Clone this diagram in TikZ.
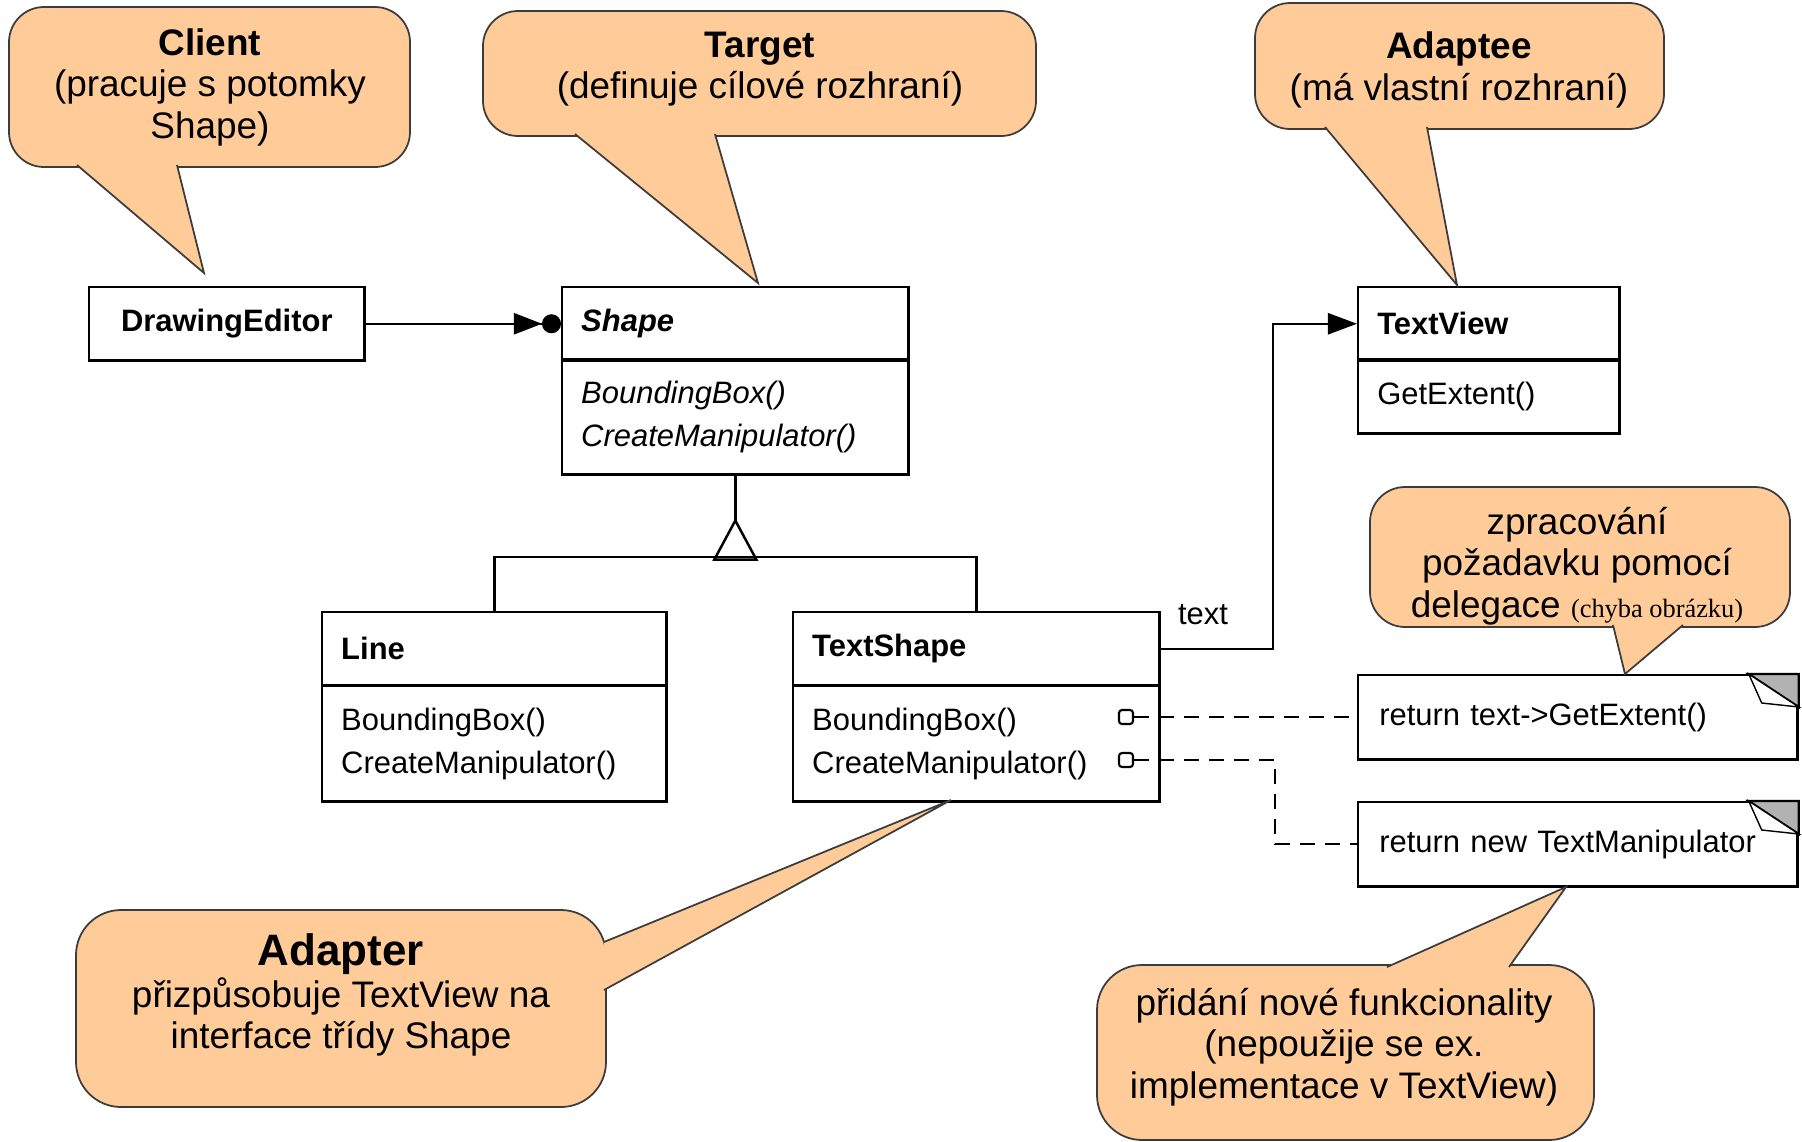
\documentclass[tikz,border=0pt]{standalone}
\usepackage{fontspec}
\setmainfont{Liberation Sans}
\newfontfamily\serifnote{Liberation Serif}
\usetikzlibrary{arrows.meta}

\begin{document}
\begin{tikzpicture}[x=0.01cm,y=-0.01cm]
\tikzstyle{umlfont}=[font=\fontsize{8.8}{12.2}\selectfont]
\tikzstyle{classbox}=[draw,line width=0.7pt,anchor=north west,inner xsep=0.19cm,inner ysep=0pt,align=left,umlfont]
\tikzstyle{header}=[classbox,minimum height=0.73cm]
\tikzstyle{ops}=[classbox,minimum height=1.15cm]
\tikzstyle{note}=[classbox,inner xsep=0.21cm,minimum width=4.39cm,text width=3.97cm,minimum height=0.84cm]
\tikzstyle{port}=[draw,line width=0.6pt,minimum size=0.14cm,inner sep=0pt,rounded corners=0.3mm]
\tikzstyle{assoc}=[line width=0.7pt]
\tikzstyle{delegate}=[line width=0.7pt,dash pattern=on 1.5mm off 1mm]
\tikzstyle{navarrow}=[-{Triangle[length=2.9mm,width=2.1mm]}]
\tikzstyle{manyarrow}=[-{Triangle[length=2.8mm,width=2.1mm]Circle[length=1.9mm]}]
\definecolor{bubblefill}{RGB}{255,204,153}
\definecolor{bubbleline}{RGB}{60,60,60}
\definecolor{foldgray}{RGB}{178,178,178}
\tikzstyle{bubble}=[fill=bubblefill,draw=bubbleline,line width=0.5pt,rounded corners=3.5mm]
\tikzstyle{tail}=[fill=bubblefill,draw=bubbleline,line width=0.5pt]
\tikzstyle{bubbletext}=[align=center,font=\fontsize{10.5}{11.8}\selectfont]
\useasboundingbox (0,0) rectangle (1802,1142);
% classes
\node[header,minimum width=2.75cm,text width=2.37cm,align=center] (editor) at (88,286) {\textbf{DrawingEditor}};
\node[header,minimum width=3.46cm,text width=3.08cm] (shape) at (561,286) {\textbf{\textit{Shape}}};
\node[ops,minimum width=3.46cm,text width=3.08cm] (shapeops) at (561,358) {\textit{BoundingBox()}\\\textit{CreateManipulator()}};
\node[header,minimum width=2.61cm,text width=2.23cm] (tview) at (1357,286) {\textbf{TextView}};
\node[classbox,minimum height=0.74cm,minimum width=2.61cm,text width=2.23cm] (tviewops) at (1357,358) {GetExtent()};
\node[header,minimum width=3.44cm,text width=3.06cm] (line) at (321,611) {\textbf{Line}};
\node[ops,minimum width=3.44cm,text width=3.06cm] (lineops) at (321,685) {BoundingBox()\\CreateManipulator()};
\node[header,minimum width=3.66cm,text width=3.28cm] (tshape) at (792,611) {\textbf{TextShape}};
\node[ops,minimum width=3.66cm,text width=3.28cm] (tshapeops) at (792,685) {BoundingBox()\\CreateManipulator()};
% notes
\node[note] (note1) at (1357,674) {return text->GetExtent()};
\node[note] (note2) at (1357,801) {return new TextManipulator};
\filldraw[fill=foldgray,line width=0.6pt] (note1.north east) ++(-50,0) -- ++(50,33) -- ++(0,-33) -- cycle;
\filldraw[fill=white,line width=0.4pt] (note1.north east) ++(-50,0) -- ++(13,29) -- ++(37,4) -- cycle;
\filldraw[fill=foldgray,line width=0.6pt] (note2.north east) ++(-50,0) -- ++(50,33) -- ++(0,-33) -- cycle;
\filldraw[fill=white,line width=0.4pt] (note2.north east) ++(-50,0) -- ++(13,29) -- ++(37,4) -- cycle;
\node[port] (bbport) at (1126,717) {};
\node[port] (cmport) at (1126,760) {};
\coordinate (kink) at (1275,760);
\coordinate (turn) at (1273,480);
\coordinate (bar) at (734,557);
% connectors
\draw[assoc,manyarrow] (editor) edge (shape);
\draw[assoc] (shapeops.south) -- ++(0,45) coordinate (apex);
\draw[assoc,fill=white] (apex) -- ++(-21,39) -- ++(42,0) -- cycle;
\draw[assoc] (line.north) |- (bar) -| (tshape.north);
\draw[assoc,navarrow] (tshape.east) -| (turn) |- (tview.west);
\node[umlfont] (rolename) at (1203,615) {text};
\draw[delegate] (bbport) -- (bbport -| note1.west);
\draw[delegate] (cmport) -- (kink) |- (note2.west);
% callouts
\filldraw[bubble] (9,7) rectangle (410,167);
\filldraw[tail] (77,165) -- (204,273) -- (177,165);
\node[bubbletext] (clientnote) at (210,87) {\textbf{Client}\\(pracuje s potomky\\Shape)};
\filldraw[bubble] (483,11) rectangle (1036,136);
\filldraw[tail] (575,134) -- (758,283) -- (715,134);
\node[bubbletext] (targetnote) at (760,69) {\textbf{Target}\\(definuje cílové rozhraní)};
\filldraw[bubble] (1255,3) rectangle (1664,129);
\filldraw[tail] (1325,127) -- (1457,285) -- (1427,127);
\node[bubbletext] (adapteenote) at (1459,70) {\textbf{Adaptee}\\(má vlastní rozhraní)};
\filldraw[bubble] (1370,487) rectangle (1790,627);
\filldraw[tail] (1613,625) -- (1625,674) -- (1683,625);
\node[bubbletext] (delegnote) at (1577,566) {zpracování\\požadavku pomocí\\delegace {\serifnote\fontsize{7.5}{9}\selectfont (chyba obrázku)}};
\filldraw[bubble,rounded corners=4.5mm] (76,910) rectangle (606,1107);
\filldraw[tail] (604,942) -- (951,800) -- (604,990);
\node[bubbletext] (adapternote) at (341,995) {{\fontsize{12.5}{14}\selectfont\textbf{Adapter}}\\přizpůsobuje TextView na\\interface třídy Shape};
\filldraw[bubble,rounded corners=4.5mm] (1097,965) rectangle (1594,1140);
\filldraw[tail] (1387,967) -- (1566,887) -- (1509,967);
\node[bubbletext] (newnote) at (1344,1047) {přidání nové funkcionality\\(nepoužije se ex.\\implementace v TextView)};
\end{tikzpicture}
\end{document}
